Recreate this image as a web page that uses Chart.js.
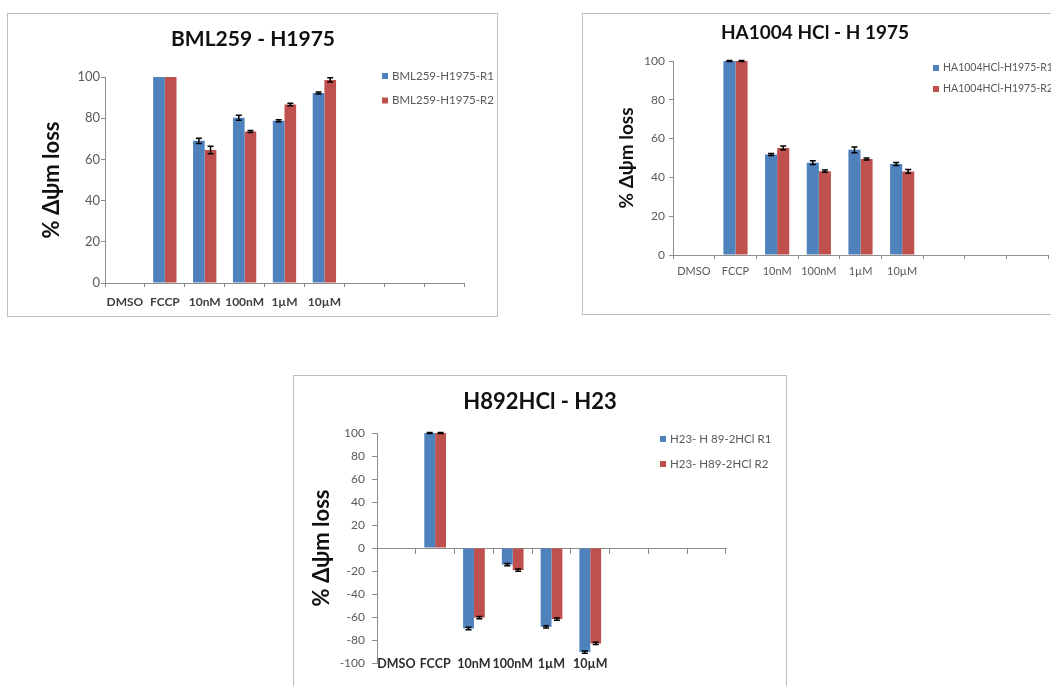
<!DOCTYPE html>
<html>
<head>
<meta charset="utf-8">
<script src="https://cdn.jsdelivr.net/npm/chart.js@4"></script>
<style>
  html, body { margin: 0; padding: 0; background: #fff; width: 1051px; height: 686px; overflow: hidden; position: relative; }
  .panel { position: absolute; overflow: hidden; }
  .panel canvas { position: absolute; left: 0; top: 0; }
  .frame { position: absolute; left: 0; top: 0; box-sizing: border-box; border: 1.5px solid #bdbdbd; pointer-events: none; }
</style>
</head>
<body>
<div class="panel" style="left:7px;top:13px;width:491px;height:304px">
  <canvas id="c1" width="491" height="304"></canvas>
  <div class="frame" style="width:491px;height:304px"></div>
</div>
<div class="panel" style="left:582px;top:13px;width:495px;height:302px">
  <canvas id="c2" width="495" height="302"></canvas>
  <div class="frame" style="width:495px;height:302px"></div>
</div>
<div class="panel" style="left:293px;top:375px;width:494px;height:330px">
  <canvas id="c3" width="494" height="330"></canvas>
  <div class="frame" style="width:494px;height:330px"></div>
</div>
<script>
// Treatment groups along the x axis (three trailing empty slots)
const categories = ['DMSO', 'FCCP', '10nM', '100nM', '1µM', '10µM', '', '', ''];

// BML259 on H1975 cells
const bmlR1 = [0, 100, 69.0, 80.2, 78.8, 92.2];
const bmlR2 = [0, 100, 64.6, 73.5, 86.6, 98.6];
const bmlErrR1 = [0, 0, 1.3, 1.2, 0.5, 0.5];
const bmlErrR2 = [0, 0, 1.8, 0.5, 0.6, 1.0];

// HA1004 HCl on H1975 cells
const haR1 = [0, 100, 51.8, 47.6, 54.2, 46.9];
const haR2 = [0, 100, 55.2, 43.2, 49.5, 43.1];
const haErrR1 = [0, 0.3, 0.5, 1.0, 1.5, 0.8];
const haErrR2 = [0, 0.3, 1.0, 0.6, 0.5, 1.0];

// H89 2HCl on H23 cells
const h23R1 = [0, 100, -70.0, -14.5, -68.5, -90.5];
const h23R2 = [0, 100, -60.5, -19.2, -61.8, -83.0];
const h23ErrR1 = [0, 0.5, 1.0, 1.0, 1.0, 1.0];
const h23ErrR2 = [0, 0.5, 1.0, 1.0, 1.0, 1.0];

// Value-axis tick positions
const ticksPositive = [0, 20, 40, 60, 80, 100];
const ticksSymmetric = [-100, -80, -60, -40, -20, 0, 20, 40, 60, 80, 100];

const BLUE = '#4f81bd';
const RED = '#c0504d';
const AXIS = '#8c8c8c';
const FAMILY = 'Lato, "Open Sans", "DejaVu Sans", sans-serif';
const Y_TITLE = '% Δψm loss';

Chart.defaults.font.family = FAMILY;

// Title, legend and error bars drawn on each panel
function makeDecor(cfg) {
  return {
    id: 'decor' + cfg.key,
    afterDatasetsDraw(chart) {
      const ctx = chart.ctx;
      const y = chart.scales.y;
      ctx.save();
      ctx.strokeStyle = '#000';
      ctx.lineWidth = 1.5;
      cfg.errors.forEach((errs, di) => {
        const meta = chart.getDatasetMeta(di);
        const vals = chart.data.datasets[di].data;
        meta.data.forEach((bar, j) => {
          const e = errs[j];
          if (!e) return;
          const v = vals[j];
          const yHi = y.getPixelForValue(v + e);
          const yLo = y.getPixelForValue(v - e);
          ctx.beginPath();
          ctx.moveTo(bar.x, yHi); ctx.lineTo(bar.x, yLo);
          ctx.moveTo(bar.x - 3, yHi); ctx.lineTo(bar.x + 3, yHi);
          ctx.moveTo(bar.x - 3, yLo); ctx.lineTo(bar.x + 3, yLo);
          ctx.stroke();
        });
      });
      ctx.restore();
    },
    afterDraw(chart) {
      const ctx = chart.ctx;
      ctx.save();
      ctx.fillStyle = '#111';
      ctx.font = 'bold ' + cfg.titleSize + 'px ' + FAMILY;
      ctx.textAlign = 'center';
      ctx.textBaseline = 'middle';
      ctx.fillText(cfg.title, cfg.titleX, cfg.titleY);

      ctx.font = cfg.legendSize + 'px ' + FAMILY;
      ctx.textAlign = 'left';
      chart.data.datasets.forEach((ds, i) => {
        const ly = cfg.legendY + i * cfg.legendGap;
        ctx.fillStyle = ds.backgroundColor;
        ctx.fillRect(cfg.legendX, ly - 3, 6, 6);
        ctx.fillStyle = '#595959';
        ctx.fillText(ds.label, cfg.legendX + 10, ly);
      });
      ctx.restore();
    }
  };
}

function valueAxis(opts) {
  return {
    min: opts.ticks[0],
    max: opts.ticks[opts.ticks.length - 1],
    afterBuildTicks(s) { s.ticks = opts.ticks.map(v => ({ value: v })); },
    grid: { drawOnChartArea: false, tickLength: opts.tickLength, color: AXIS },
    border: { color: AXIS },
    ticks: { font: { size: opts.tickSize }, color: '#595959', padding: opts.tickPad },
    title: {
      display: true, text: Y_TITLE, color: '#111',
      font: { size: opts.titleSize, weight: 'bold' },
      padding: { top: opts.titlePad, bottom: 0 }
    },
    afterFit(s) { s.width = opts.width; }
  };
}

function baseOptions(padding, catPct) {
  return {
    responsive: false,
    maintainAspectRatio: false,
    animation: false,
    devicePixelRatio: 1,
    layout: { padding },
    datasets: { bar: { categoryPercentage: catPct, barPercentage: 1 } },
    plugins: { legend: { display: false }, tooltip: { enabled: false } },
    scales: {}
  };
}

// Panel 1: BML259 - H1975
const opt1 = baseOptions({ left: 20, top: 64, right: 34, bottom: 4 }, 0.585);
opt1.scales.x = {
  offset: true,
  grid: { offset: true, drawOnChartArea: false, tickLength: 4, color: AXIS },
  border: { color: AXIS },
  ticks: { font: { size: 12, weight: 'bold' }, color: '#404040', padding: 7.5, maxRotation: 0, autoSkip: false },
  afterFit(s) { s.height = 30; }
};
opt1.scales.y = valueAxis({ ticks: ticksPositive, tickLength: 4, tickSize: 13, tickPad: 1, titleSize: 22, titlePad: 12, width: 78 });
new Chart(document.getElementById('c1'), {
  type: 'bar',
  data: {
    labels: categories,
    datasets: [
      { label: 'BML259-H1975-R1', data: bmlR1, backgroundColor: BLUE },
      { label: 'BML259-H1975-R2', data: bmlR2, backgroundColor: RED }
    ]
  },
  options: opt1,
  plugins: [makeDecor({
    key: 1, title: 'BML259 - H1975', titleSize: 21, titleX: 246, titleY: 26,
    legendX: 375, legendY: 63, legendGap: 24.5, legendSize: 11.5,
    errors: [bmlErrR1, bmlErrR2]
  })]
});

// Panel 2: HA1004 HCl - H 1975
const opt2 = baseOptions({ left: 20, top: 48, right: 29, bottom: 30 }, 0.58);
opt2.scales.x = {
  offset: true,
  grid: { offset: true, drawOnChartArea: false, tickLength: 4, color: AXIS },
  border: { color: AXIS },
  ticks: { font: { size: 11 }, color: '#595959', padding: 5.4, maxRotation: 0, autoSkip: false },
  afterFit(s) { s.height = 30; }
};
opt2.scales.y = valueAxis({ ticks: ticksPositive, tickLength: 4, tickSize: 12, tickPad: 4, titleSize: 19, titlePad: 13.6, width: 71 });
new Chart(document.getElementById('c2'), {
  type: 'bar',
  data: {
    labels: categories,
    datasets: [
      { label: 'HA1004HCl-H1975-R1', data: haR1, backgroundColor: BLUE },
      { label: 'HA1004HCl-H1975-R2', data: haR2, backgroundColor: RED }
    ]
  },
  options: opt2,
  plugins: [makeDecor({
    key: 2, title: 'HA1004 HCl - H 1975', titleSize: 19, titleX: 233, titleY: 20,
    legendX: 351, legendY: 55, legendGap: 21, legendSize: 10.5,
    errors: [haErrR1, haErrR2]
  })]
});

// Panel 3: H892HCl - H23 (axis line at zero, category labels level with the -100 tick)
const opt3 = baseOptions({ left: 8, top: 58, right: 61, bottom: 42 }, 0.56);
opt3.scales.x = {
  position: { y: 0 },
  offset: true,
  grid: { offset: true, drawOnChartArea: false, tickLength: 5, color: AXIS },
  border: { color: AXIS },
  ticks: { display: false },
  afterFit(s) { s.height = 0; }
};
opt3.scales.x2 = {
  type: 'category',
  axis: 'x',
  position: { y: -100 },
  offset: true,
  grid: { display: false, drawTicks: false },
  border: { display: false },
  ticks: { font: { size: 12.5, weight: 'bold' }, color: '#2e2e2e', padding: -6.5, maxRotation: 0, autoSkip: false },
  afterFit(s) { s.height = 0; }
};
opt3.scales.y = valueAxis({ ticks: ticksSymmetric, tickLength: 5, tickSize: 12, tickPad: 7, titleSize: 22, titlePad: 7.8, width: 76 });
new Chart(document.getElementById('c3'), {
  type: 'bar',
  data: {
    labels: categories,
    datasets: [
      { label: 'H23- H 89-2HCl R1', data: h23R1, backgroundColor: BLUE, xAxisID: 'x' },
      { label: 'H23- H89-2HCl R2', data: h23R2, backgroundColor: RED, xAxisID: 'x' }
    ]
  },
  options: opt3,
  plugins: [makeDecor({
    key: 3, title: 'H892HCl - H23', titleSize: 22, titleX: 247, titleY: 27,
    legendX: 367, legendY: 64, legendGap: 25, legendSize: 11.5,
    errors: [h23ErrR1, h23ErrR2]
  })]
});
</script>
</body>
</html>
